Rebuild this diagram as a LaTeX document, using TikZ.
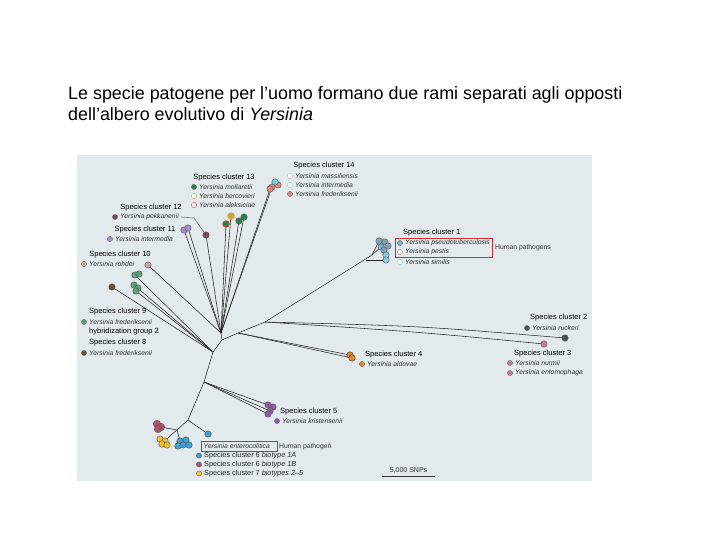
\documentclass[tikz,border=0pt]{standalone}
\usepackage{fontspec}
\setmainfont{Liberation Sans}
\usetikzlibrary{calc}
\pgfdeclarelayer{panel}
\pgfdeclarelayer{bg}
\pgfsetlayers{panel,bg,main}
\definecolor{boxred}{RGB}{205,45,55}
\begin{document}
\begin{tikzpicture}[x=1pt,y=-1pt,
  br/.style={draw=black!85, line width=0.55pt},
  tip/.style={circle, draw=black!70, line width=0.35pt, inner sep=0pt, minimum size=6.5pt},
  key/.style={circle, draw=black!60, line width=0.4pt, inner sep=0pt, minimum size=5.2pt},
  lbl/.style={font=\fontsize{6.8}{8}\selectfont, text=black!80, anchor=west, inner sep=0pt},
  hd/.style={font=\fontsize{7.5}{8}\selectfont, text=black, inner sep=0pt},
  lg/.style={font=\fontsize{7.3}{8}\selectfont, text=black!85, anchor=west, inner sep=0pt},
  redbox/.style={draw=boxred, line width=0.8pt},
  title/.style={font=\fontsize{17.9}{20}\selectfont, anchor=base west, inner sep=0pt}]
\useasboundingbox (0,0) rectangle (720,540);
\begin{pgfonlayer}{panel}
\fill[white] (0,0) rectangle (720,540);
\fill[fill={rgb,255:red,227;green,234;blue,237}] (77,155) rectangle (592,481);
\end{pgfonlayer}
% title
\node[title] (t1) at (68,100) {Le specie patogene per l’uomo formano due rami separati agli opposti};
\node[title] (t2) at (68,120.5) {dell’albero evolutivo di \textit{Yersinia}};

% colours
\definecolor{dMas}{RGB}{185,163,214}
\definecolor{dInt}{RGB}{120,205,225}
\definecolor{cFre}{RGB}{224,135,127}
\definecolor{cMol}{RGB}{47,125,74}
\definecolor{dBer}{RGB}{227,154,74}
\definecolor{dAle}{RGB}{200,65,44}
\definecolor{cPek}{RGB}{123,74,92}
\definecolor{cInt}{RGB}{165,146,194}
\definecolor{cRoh}{RGB}{201,160,160}
\definecolor{cNine}{RGB}{95,160,123}
\definecolor{cEight}{RGB}{106,78,51}
\definecolor{cPtb}{RGB}{127,180,207}
\definecolor{cSim}{RGB}{140,200,224}
\definecolor{dPes}{RGB}{224,112,80}
\definecolor{cRuc}{RGB}{77,83,89}
\definecolor{cNur}{RGB}{208,122,152}
\definecolor{cAld}{RGB}{227,139,44}
\definecolor{cKri}{RGB}{140,94,166}
\definecolor{cOneA}{RGB}{61,159,211}
\definecolor{cOneB}{RGB}{179,80,106}
\definecolor{cTwoFive}{RGB}{242,193,46}

% internal nodes
\coordinate (U) at (221,333);
\coordinate (P1) at (222,340);
\coordinate (P0) at (213,352);
\coordinate (B4) at (238,333);
\coordinate (B23) at (265,322);
\coordinate (B1) at (372,255);
\coordinate (B1s) at (366,260);
\coordinate (Q1) at (204,382);
\coordinate (Q2) at (188,420);
\coordinate (Q3) at (177,430);
\coordinate (Q4) at (172,434);

% tips
\node[tip, fill=cFre] (t14a) at (272,187) {};
\node[tip, fill=cFre] (t14b) at (278,185) {};
\node[tip, fill=dInt] (t14c) at (275,182) {};
\node[tip, fill=cFre] (t14d) at (270,189) {};
\node[tip, fill=cTwoFive!70!cMol, draw=dBer, line width=0.8pt] (t13a) at (231,216) {};
\node[tip, fill=cMol, draw=dAle, line width=0.8pt] (t13b) at (226,224) {};
\node[tip, fill=cMol] (t13c) at (239,221) {};
\node[tip, fill=cMol] (t13d) at (244,217) {};
\node[tip, fill=cPek] (t12) at (206,235) {};
\node[tip, fill=cInt] (t11a) at (184,230) {};
\node[tip, fill=cInt] (t11b) at (188,228) {};
\node[tip, fill=cRoh] (t10) at (148,265) {};
\node[tip, fill=cNine] (t9a) at (135,275) {};
\node[tip, fill=cNine] (t9b) at (139,274) {};
\node[tip, fill=cNine] (t9c) at (134,285) {};
\node[tip, fill=cNine] (t9d) at (138,288) {};
\node[tip, fill=cNine] (t9e) at (136,291) {};
\node[tip, fill=cEight] (t8) at (112,287) {};
\node[tip, fill=cPtb!70!gray] (t1a) at (379,241) {};
\node[tip, fill=cPtb!60!gray] (t1b) at (385,242) {};
\node[tip, fill=cPtb!70!gray] (t1c) at (388,246) {};
\node[tip, fill=cPtb] (t1d) at (381,247) {};
\node[tip, fill=cPtb!60!gray] (t1e) at (384,250) {};
\node[tip, fill=cSim] (t1f) at (386,255) {};
\node[tip, fill=cSim] (t1g) at (386,260) {};
\node[tip, fill=cRuc] (t2) at (565,338) {};
\node[tip, fill=cNur] (t3) at (544,344) {};
\node[tip, fill=cAld, draw=black!85] (t4a) at (350,355) {};
\node[tip, fill=cAld, draw=black!85] (t4b) at (352,358) {};
\node[tip, fill=cKri] (t5a) at (268,405) {};
\node[tip, fill=cKri] (t5b) at (273,407) {};
\node[tip, fill=cKri] (t5c) at (270,411) {};
\node[tip, fill=cKri] (t5d) at (268,414) {};
\node[tip, fill=cOneA] (t6s) at (208,434) {};
\node[tip, fill=cOneB, minimum size=7.5pt] (t6ba) at (157,424) {};
\node[tip, fill=cOneB, minimum size=7.5pt] (t6bb) at (161,427) {};
\node[tip, fill=cOneB, minimum size=7.5pt] (t6bc) at (158,429) {};
\node[tip, fill=cTwoFive] (t7a) at (160,439) {};
\node[tip, fill=cTwoFive] (t7b) at (165,441) {};
\node[tip, fill=cTwoFive] (t7c) at (162,444) {};
\node[tip, fill=cTwoFive] (t7d) at (167,445) {};
\node[tip, fill=cOneA] (t6aa) at (180,441) {};
\node[tip, fill=cOneA] (t6ab) at (186,440) {};
\node[tip, fill=cOneA] (t6ac) at (183,445) {};
\node[tip, fill=cOneA] (t6ad) at (189,445) {};
\node[tip, fill=cOneA] (t6ae) at (178,446) {};

% branches behind tips
\begin{pgfonlayer}{bg}
\path[br] (U) -- (P1) -- (P0) -- (Q1) -- (Q2) -- (Q3) -- (Q4);
\path[br] (P1) -- (B4) -- (B23) -- (B1) -- (t1d.center);
\path[br] (B1) -- (t1a.center);
\path[br] (B1s) -- (t1g.center);
\path[br] (B4) -- (t4a.center);
\path[br] (B4) -- (t4b.center);
\path[br] (B23) .. controls (420,326) .. (t2.center);
\path[br] (B23) .. controls (420,332) .. (t3.center);
\path[br] (U) -- (t14a.center);
\path[br] (U) -- (t14d.center);
\path[br] (U) -- (t13a.center);
\path[br] (U) -- (t13b.center);
\path[br] (U) -- (t13c.center);
\path[br] (U) -- (t13d.center);
\path[br] (U) -- (t12.center);
\path[br] (U) -- (t11a.center);
\path[br] (U) -- (t11b.center);
\path[br] (U) -- (t10.center);
\path[br] (P0) -- (t9a.center);
\path[br] (P0) -- (t9c.center);
\path[br] (P0) -- (t9e.center);
\path[br] (P0) -- (t8.center);
\path[br] (Q1) -- (t5a.center);
\path[br] (Q1) -- (t5c.center);
\path[br] (Q1) -- (t5d.center);
\path[br] (Q2) -- (t6s.center);
\path[br] (Q3) -- (t6bb.center);
\path[br] (Q4) -- (t7b.center);
\path[br] (Q3) -- (t6aa.center);
\end{pgfonlayer}

% ---- labels ----
% cluster 14
\node[hd] (h14) at (324,166) {Species cluster 14};
\node[key, draw=dMas, fill=white] (k14a) at (290,176) {};
\node[lbl] (l14a) at (295,176) {\textit{Yersinia massiliensis}};
\node[key, draw=dInt, fill=white] (k14b) at (290,185) {};
\node[lbl] (l14b) at (295,185) {\textit{Yersinia intermedia}};
\node[key, fill=cFre] (k14c) at (290,194) {};
\node[lbl] (l14c) at (295,194) {\textit{Yersinia frederiksenii}};
% cluster 13
\node[hd] (h13) at (224,178) {Species cluster 13};
\node[key, fill=cMol] (k13a) at (194,187) {};
\node[lbl] (l13a) at (199,187) {\textit{Yersinia mollaretii}};
\node[key, draw=dBer, fill=white] (k13b) at (194,196) {};
\node[lbl] (l13b) at (199,196) {\textit{Yersinia bercovieri}};
\node[key, draw=dAle, fill=white] (k13c) at (194,205) {};
\node[lbl] (l13c) at (199,205) {\textit{Yersinia aleksiciae}};
% cluster 12
\node[hd] (h12) at (151,208) {Species cluster 12};
\node[key, fill=cPek] (k12) at (115,217) {};
\node[lbl] (l12) at (120,217) {\textit{Yersinia pekkanenii}};
\coordinate (lead) at (194,218);
\draw[draw=black!55, line width=0.6pt] (l12.east) ++(2,0) -- (lead) -- (t12);
% cluster 11
\node[hd] (h11) at (145,230) {Species cluster 11};
\node[key, fill=cInt] (k11) at (110,239) {};
\node[lbl] (l11) at (115,239) {\textit{Yersinia intermedia}};
% cluster 10
\node[hd] (h10) at (120,255) {Species cluster 10};
\node[key, fill=cRoh] (k10) at (84,264) {};
\node[lbl] (l10) at (89,264) {\textit{Yersinia rohdei}};
% cluster 9 / 8
\node[hd, anchor=west] (h9) at (89,312) {Species cluster 9};
\node[key, fill=cNine] (k9) at (84,322) {};
\node[lbl] (l9) at (89,322) {\textit{Yersinia frederiksenii}};
\node[hd, anchor=west] (h9b) at (89,332) {hybridization group 2};
\node[hd, anchor=west] (h8) at (89,343) {Species cluster 8};
\node[key, fill=cEight] (k8) at (84,353) {};
\node[lbl] (l8) at (89,353) {\textit{Yersinia frederiksenii}};
% cluster 1
\node[hd, anchor=west] (h1) at (403,233) {Species cluster 1};
\node[key, fill=cPtb] (k1a) at (400,243) {};
\node[lbl] (l1a) at (405,243) {\textit{Yersinia pseudotuberculosis}};
\node[key, draw=dPes, fill=white] (k1b) at (400,252) {};
\node[lbl] (l1b) at (405,252) {\textit{Yersinia pestis}};
\node[key, draw=cSim, fill=white] (k1c) at (400,262) {};
\node[lbl] (l1c) at (405,262) {\textit{Yersinia similis}};
\draw[redbox] (395,238) rectangle (492,257);
\node[lbl] (hp1) at (495,248) {Human pathogens};
% cluster 2
\node[hd, anchor=west] (h2) at (530,318) {Species cluster 2};
\node[key, fill=cRuc] (k2) at (527,328) {};
\node[lbl] (l2) at (532,328) {\textit{Yersinia ruckeri}};
% cluster 3
\node[hd, anchor=west] (h3) at (514,354) {Species cluster 3};
\node[key, fill=cNur] (k3a) at (510,363) {};
\node[lbl] (l3a) at (515,363) {\textit{Yersinia nurmii}};
\node[key, fill=cNur] (k3b) at (510,373) {};
\node[lbl] (l3b) at (515,373) {\textit{Yersinia entomophaga}};
% cluster 4
\node[hd, anchor=west] (h4) at (365,355) {Species cluster 4};
\node[key, fill=cAld] (k4) at (362,364) {};
\node[lbl] (l4) at (367,364) {\textit{Yersinia aldovae}};
% cluster 5
\node[hd, anchor=west] (h5) at (280,412) {Species cluster 5};
\node[key, fill=cKri] (k5) at (277,421) {};
\node[lbl] (l5) at (282,421) {\textit{Yersinia kristensenii}};
% enterocolitica
\node[lbl] (lent) at (203.5,446.5) {\textit{Yersinia enterocolitica}};
\draw[redbox] (201,441.5) rectangle (277,451);
\node[lbl] (hp2) at (279,446.5) {Human pathogen};
\node[key, fill=cOneA] (k6a) at (199,455.5) {};
\node[lg] (l6a) at (204,455.5) {Species cluster 6 \textit{biotype 1A}};
\node[key, fill=cOneB] (k6b) at (199,464.5) {};
\node[lg] (l6b) at (204,464.5) {Species cluster 6 \textit{biotype 1B}};
\node[key, fill=cTwoFive] (k7) at (199,473.5) {};
\node[lg] (l7) at (204,473.5) {Species cluster 7 \textit{biotypes 2–5}};
% scale bar
\coordinate (sa) at (382,476);
\coordinate (sb) at (435,476);
\draw[black!80, line width=0.6pt] (sa) -- (sb);
\node[lbl, anchor=south, font=\fontsize{7}{7}\selectfont] (sc) at ($(sa)!0.5!(sb)+(0,-2)$) {5,000 SNPs};
\end{tikzpicture}
\end{document}
